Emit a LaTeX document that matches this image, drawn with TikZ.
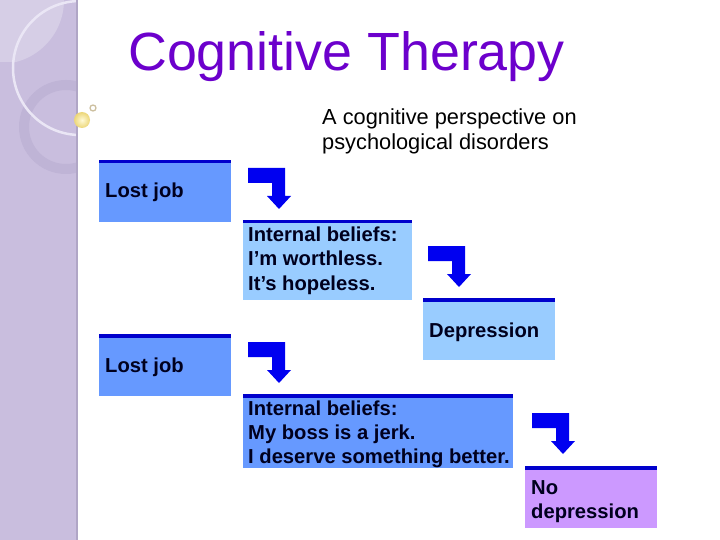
\documentclass[tikz,border=0pt]{standalone}
\usepackage{fontspec}
\setmainfont{Liberation Sans}
\definecolor{sidebar}{RGB}{201,190,222}
\definecolor{sideedge}{RGB}{176,166,198}
\definecolor{lenscol}{RGB}{214,206,230}
\definecolor{ringcol}{RGB}{191,180,214}
\definecolor{arccol}{RGB}{234,230,245}
\definecolor{titlecol}{RGB}{108,0,204}
\definecolor{bluemid}{RGB}{102,153,255}
\definecolor{bluelight}{RGB}{153,204,255}
\definecolor{lavender}{RGB}{204,153,255}
\definecolor{topblue}{RGB}{0,0,204}
\definecolor{arrowblue}{RGB}{0,0,240}
\definecolor{textcol}{RGB}{0,0,30}
\definecolor{ballin}{RGB}{255,250,215}
\definecolor{ballout}{RGB}{236,214,120}
\definecolor{tancol}{RGB}{205,192,160}
\begin{document}
\begin{tikzpicture}[x=1pt,y=-1pt,
  box/.style={draw=none,inner sep=0pt,anchor=north west},
  topline/.style={draw=topblue,line width=3.5pt},
  lbl/.style={anchor=base west,inner sep=0pt,text=textcol,font=\fontsize{20.2}{24}\selectfont\bfseries},
  sub/.style={anchor=base west,inner sep=0pt,text=black,font=\fontsize{21.8}{25}\selectfont},
  arr/.style={fill=arrowblue}]
\useasboundingbox (0,0) rectangle (720,540);
\fill[white] (0,0) rectangle (720,540);
% sidebar
\fill[sidebar] (0,0) rectangle (77,540);
\begin{scope}
  \clip (0,0) rectangle (77,540);
  \begin{scope}
    \clip (0,0) rectangle (64,62);
    \fill[lenscol] (0,0) circle (64pt);
  \end{scope}
  \fill[ringcol,even odd rule] (66,127) circle (47pt) (66,127) circle (37pt);
  \draw[arccol,line width=2.5pt] (80,68) circle (67pt);
\end{scope}
\draw[sideedge,line width=2pt] (77,0) -- (77,540);
\shade[inner color=ballin,outer color=ballout] (82,120) circle (8pt);
\draw[tancol,line width=1.3pt] (93,108) circle (3pt);
% title
\node[anchor=base west,inner sep=0pt,text=titlecol,font=\fontsize{53.8}{60}\selectfont] (title) at (128,71) {Cognitive Therapy};
\node[sub] (s1) at (322,125) {A cognitive perspective on};
\node[sub] (s2) at (322,150) {psychological disorders};
% boxes
\node[box,fill=bluemid,minimum width=132pt,minimum height=62pt] (b1) at (99,160) {};
\node[box,fill=bluelight,minimum width=169pt,minimum height=80pt] (b2) at (243,220) {};
\node[box,fill=bluelight,minimum width=132pt,minimum height=62pt] (b3) at (423,298) {};
\node[box,fill=bluemid,minimum width=132pt,minimum height=62pt] (b4) at (99,334) {};
\node[box,fill=bluemid,minimum width=270pt,minimum height=74pt] (b5) at (243,394) {};
\node[box,fill=lavender,minimum width=132pt,minimum height=62pt] (b6) at (525,466) {};
\foreach \b in {b1,b2,b3,b4,b5,b6}
  \draw[topline] ([yshift=-1.75pt]\b.north west) -- ([yshift=-1.75pt]\b.north east);
% texts
\node[lbl] (t1) at (105,198) {Lost job};
\node[lbl] (t2a) at (248,241) {Internal beliefs:};
\node[lbl] (t2b) at (248,265.5) {I’m worthless.};
\node[lbl] (t2c) at (248,290) {It’s hopeless.};
\node[lbl] (t3) at (429,337) {Depression};
\node[lbl] (t4) at (105,372) {Lost job};
\node[lbl] (t5a) at (248,415) {Internal beliefs:};
\node[lbl] (t5b) at (248,439) {My boss is a jerk.};
\node[lbl] (t5c) at (248,463) {I deserve something better.};
\node[lbl] (t6a) at (531,494) {No};
\node[lbl] (t6b) at (531,518) {depression};
% bent arrows
\coordinate (a1) at (248,168);
\coordinate (a2) at (428,246);
\coordinate (a3) at (248,342);
\coordinate (a4) at (532,413);
\foreach \a in {a1,a2,a3,a4}
  \fill[arr,shift={(\a)}] (0,0) -- (37,0) -- (37,28) -- (43,28) -- (31,41) -- (19,28) -- (24,28) -- (24,15) -- (0,15) -- cycle;
\end{tikzpicture}
\end{document}
